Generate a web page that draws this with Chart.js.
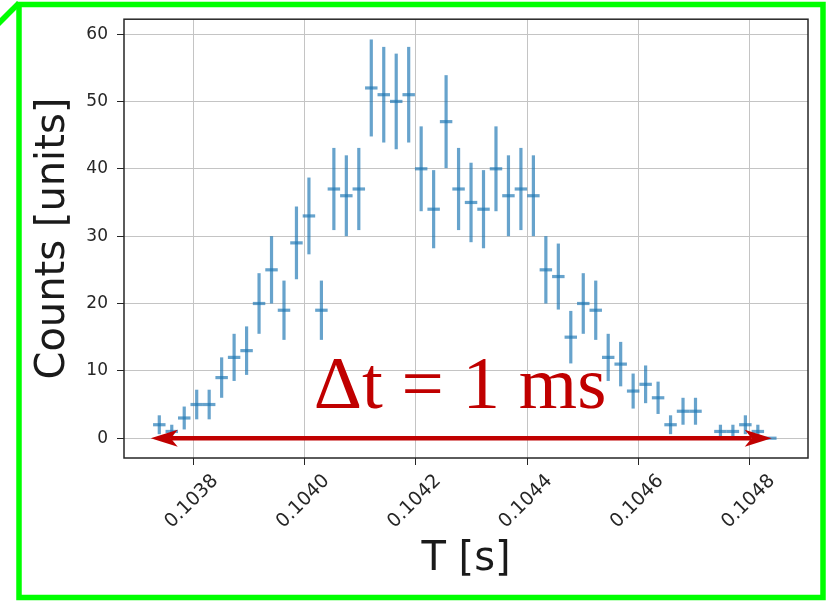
<!DOCTYPE html>
<html>
<head>
<meta charset="utf-8">
<script src="https://cdn.jsdelivr.net/npm/chart.js@4.4.1/dist/chart.umd.min.js"></script>
<style>
  html, body { margin: 0; padding: 0; background: #fff; }
  #wrap { position: relative; width: 828px; height: 601px; }
</style>
</head>
<body>
<div id="wrap"><canvas id="histChart"></canvas></div>
<script>
// bin centres [s]
const binTimes = [
  0.1037389, 0.1037613, 0.1037837, 0.1038061, 0.1038285, 0.1038509, 0.1038733, 0.1038957, 0.1039181, 0.1039405,
  0.1039629, 0.1039853, 0.1040077, 0.1040301, 0.1040525, 0.1040749, 0.1040973, 0.1041197, 0.1041421, 0.1041645,
  0.1041869, 0.1042093, 0.1042317, 0.1042541, 0.1042765, 0.1042989, 0.1043213, 0.1043437, 0.1043661, 0.1043885,
  0.1044109, 0.1044333, 0.1044557, 0.1044781, 0.1045005, 0.1045229, 0.1045453, 0.1045677, 0.1045901, 0.1046125,
  0.1046349, 0.1046573, 0.1046797, 0.1047021, 0.1047245, 0.1047469, 0.1047693, 0.1047917, 0.1048141, 0.1048365
];
const binCounts = [
  2, 1, 3, 5, 5, 9, 12, 13, 20, 25,
  19, 29, 33, 19, 37, 36, 37, 52, 51, 50,
  51, 40, 34, 47, 37, 35, 34, 40, 36, 37,
  36, 25, 24, 15, 20, 19, 12, 11, 7, 8,
  6, 2, 4, 4, 0, 1, 1, 2, 1, 0
];
const countErrors = [
  1.4, 1.0, 1.7, 2.2, 2.2, 3.0, 3.5, 3.6, 4.5, 5.0,
  4.4, 5.4, 5.7, 4.4, 6.1, 6.0, 6.1, 7.2, 7.1, 7.1,
  7.1, 6.3, 5.8, 6.9, 6.1, 5.9, 5.8, 6.3, 6.0, 6.1,
  6.0, 5.0, 4.9, 3.9, 4.5, 4.4, 3.5, 3.3, 2.6, 2.8,
  2.4, 1.4, 2.0, 2.0, 0, 1.0, 1.0, 1.4, 1.0, 0
];
const binHalfWidth = 0.0000112;

const xTicks = [0.1038, 0.1040, 0.1042, 0.1044, 0.1046, 0.1048];
const yTicks = [0, 10, 20, 30, 40, 50, 60];

// annotation: double arrow along zero line + label
const arrowFrom = 0.1037235;
const arrowTo = 0.1048390;
const arrowLevel = 0;
const noteText = 'Δt = 1 ms';
const noteAt = { x: 0.1042792, y: 4.5 };

const RED = '#c00000';
const TEXT = '#262626';

const errorBarPlugin = {
  id: 'errorBars',
  beforeDatasetsDraw(chart) {
    // full axes frame (mpl style)
    const { ctx, chartArea: a } = chart;
    ctx.save();
    ctx.strokeStyle = '#262626';
    ctx.lineWidth = 1.5;
    ctx.strokeRect(a.left, a.top, a.right - a.left, a.bottom - a.top);
    ctx.restore();
  },
  afterDatasetsDraw(chart) {
    const { ctx, scales: { x, y } } = chart;
    ctx.save();
    ctx.strokeStyle = 'rgba(31, 119, 180, 0.68)';
    ctx.lineWidth = 3.2;
    binTimes.forEach((t, i) => {
      const px = x.getPixelForValue(t);
      const py = y.getPixelForValue(binCounts[i]);
      ctx.beginPath();
      ctx.moveTo(x.getPixelForValue(t - binHalfWidth), py);
      ctx.lineTo(x.getPixelForValue(t + binHalfWidth), py);
      ctx.stroke();
      if (countErrors[i] > 0) {
        ctx.beginPath();
        ctx.moveTo(px, y.getPixelForValue(binCounts[i] - countErrors[i]));
        ctx.lineTo(px, y.getPixelForValue(binCounts[i] + countErrors[i]));
        ctx.stroke();
      }
    });
    ctx.restore();
  }
};

function drawHead(ctx, tipX, tipY, dir) {
  const len = 27, half = 8.5, notch = 20;
  ctx.beginPath();
  ctx.moveTo(tipX, tipY);
  ctx.lineTo(tipX - dir * len, tipY - half);
  ctx.lineTo(tipX - dir * notch, tipY);
  ctx.lineTo(tipX - dir * len, tipY + half);
  ctx.closePath();
  ctx.fill();
}

const annotationPlugin = {
  id: 'annotation',
  afterDraw(chart) {
    const { ctx, scales: { x, y } } = chart;
    const x1 = x.getPixelForValue(arrowFrom);
    const x2 = x.getPixelForValue(arrowTo);
    const ay = y.getPixelForValue(arrowLevel);
    ctx.save();
    ctx.strokeStyle = RED;
    ctx.fillStyle = RED;
    ctx.lineWidth = 4.5;
    ctx.beginPath();
    ctx.moveTo(x1 + 20, ay);
    ctx.lineTo(x2 - 20, ay);
    ctx.stroke();
    drawHead(ctx, x1, ay, -1);
    drawHead(ctx, x2, ay, 1);

    ctx.font = '75px "Liberation Serif", "Times New Roman", serif';
    ctx.textAlign = 'center';
    ctx.textBaseline = 'alphabetic';
    ctx.fillText(noteText, x.getPixelForValue(noteAt.x), y.getPixelForValue(noteAt.y));

    // green outline around the figure
    ctx.strokeStyle = '#00ff00';
    ctx.lineWidth = 5.5;
    ctx.strokeRect(19, 4.5, 804, 593);
    ctx.beginPath();
    ctx.moveTo(-2, 24);
    ctx.lineTo(19, 3);
    ctx.stroke();
    ctx.restore();
  }
};

const scatterData = binTimes.map((t, i) => ({ x: t, y: binCounts[i] }));

new Chart(document.getElementById('histChart'), {
  type: 'scatter',
  data: {
    datasets: [{
      data: scatterData,
      pointRadius: 0,
      pointHoverRadius: 0,
      showLine: false
    }]
  },
  options: {
    responsive: true,
    maintainAspectRatio: false,
    animation: false,
    events: [],
    layout: { padding: { top: 15, right: 20, bottom: 0, left: 0 } },
    plugins: { legend: { display: false }, tooltip: { enabled: false } },
    scales: {
      x: {
        type: 'linear',
        min: 0.1036755,
        max: 0.1049042,
        afterBuildTicks: (scale) => { scale.ticks = xTicks.map(v => ({ value: v })); },
        afterFit: (scale) => { scale.height = 143; },
        border: { display: false },
        grid: { color: '#c4c4c4', lineWidth: 1, tickColor: '#262626', tickLength: 7 },
        ticks: {
          autoSkip: false,
          minRotation: 45,
          maxRotation: 45,
          labelOffset: 22,
          padding: 5,
          color: TEXT,
          font: { family: 'DejaVu Sans', size: 19 },
          callback: (v) => Number(v).toFixed(4)
        },
        title: {
          display: true,
          text: 'T [s]',
          color: '#1a1a1a',
          font: { family: 'DejaVu Sans', size: 40 },
          padding: { top: 0, bottom: 17 }
        }
      },
      y: {
        min: -2.94,
        max: 62.21,
        afterBuildTicks: (scale) => { scale.ticks = yTicks.map(v => ({ value: v })); },
        afterFit: (scale) => { scale.width = 124; },
        border: { display: false },
        grid: { color: '#c4c4c4', lineWidth: 1, tickColor: '#262626', tickLength: 7 },
        ticks: {
          padding: 9,
          color: TEXT,
          font: { family: 'DejaVu Sans', size: 17 }
        },
        title: {
          display: true,
          text: 'Counts [units]',
          color: '#1a1a1a',
          font: { family: 'DejaVu Sans', size: 40 },
          padding: { top: 30, bottom: 0 }
        }
      }
    }
  },
  plugins: [errorBarPlugin, annotationPlugin]
});
</script>
</body>
</html>
